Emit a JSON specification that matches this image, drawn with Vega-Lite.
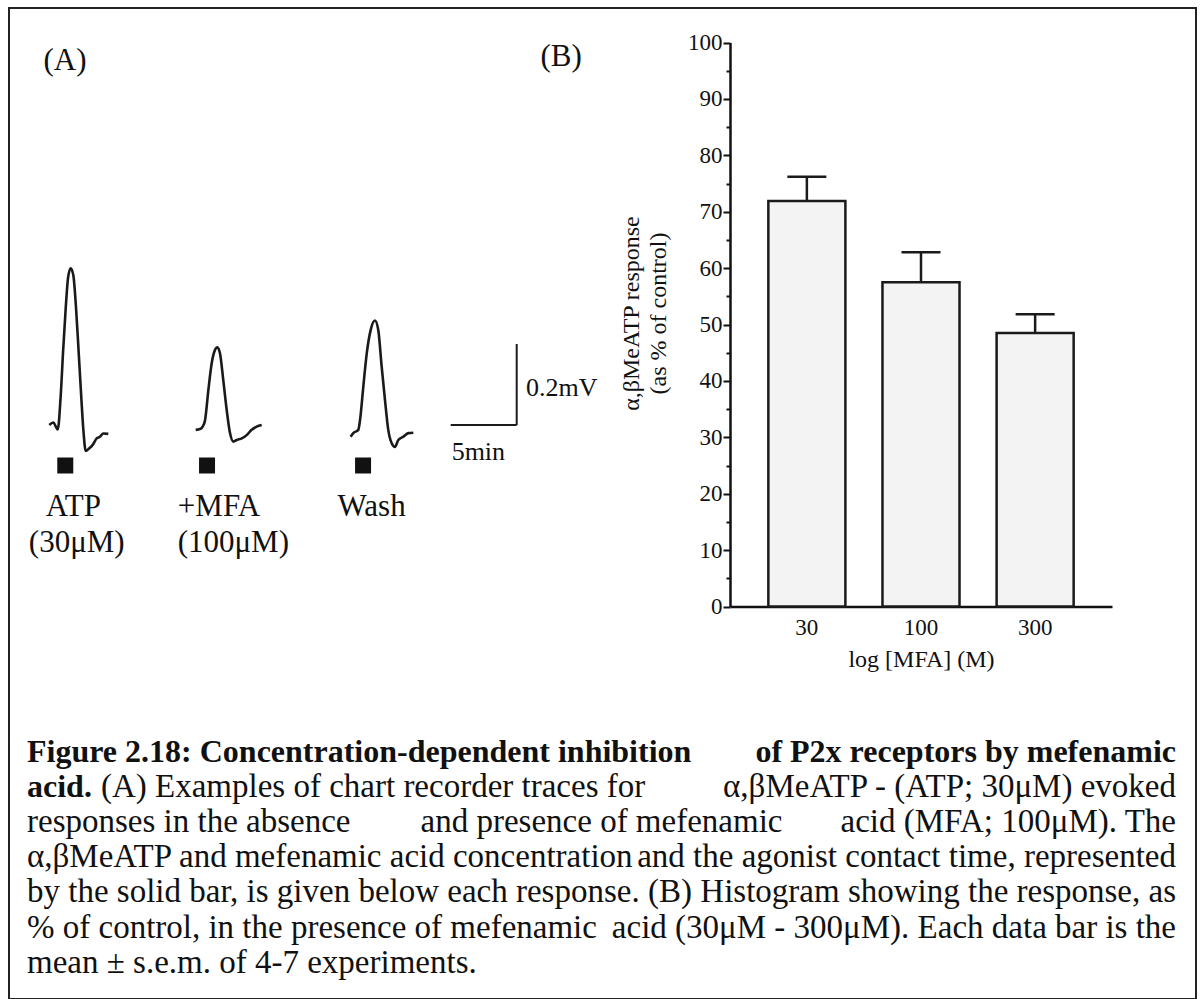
{
  "$schema": "https://vega.github.io/schema/vega-lite/v6.json",
  "width": 1187,
  "height": 991,
  "autosize": {"type": "none"},
  "padding": {"left": 9, "top": 8, "right": 8, "bottom": 0},
  "background": "white",
  "config": {
    "view": {"stroke": "#222", "strokeWidth": 2},
    "font": "Liberation Serif",
    "axis": {
      "labelFont": "Liberation Serif", "titleFont": "Liberation Serif",
      "labelColor": "#111", "titleColor": "#111", "domainColor": "#111", "tickColor": "#111",
      "grid": false, "labelFontSize": 23, "titleFontSize": 24, "titleFontWeight": "normal"
    },
    "text": {"font": "Liberation Serif", "color": "#111"}
  },
  "datasets": {
    "bars": [
      {"conc": "30", "mean": 71.9, "sem_top": 76.2},
      {"conc": "100", "mean": 57.5, "sem_top": 62.8},
      {"conc": "300", "mean": 48.5, "sem_top": 51.8}
    ],
    "traces": [
      {"trace": "ATP", "t": 0, "v": 0}, {"trace": "ATP", "t": 0.30, "v": 0.006}, {"trace": "ATP", "t": 0.64, "v": -0.011},
      {"trace": "ATP", "t": 0.86, "v": 0.070}, {"trace": "ATP", "t": 1.05, "v": 0.185}, {"trace": "ATP", "t": 1.25, "v": 0.292},
      {"trace": "ATP", "t": 1.43, "v": 0.366}, {"trace": "ATP", "t": 1.62, "v": 0.387}, {"trace": "ATP", "t": 1.82, "v": 0.370},
      {"trace": "ATP", "t": 2.02, "v": 0.292}, {"trace": "ATP", "t": 2.23, "v": 0.177}, {"trace": "ATP", "t": 2.42, "v": 0.070},
      {"trace": "ATP", "t": 2.58, "v": -0.012}, {"trace": "ATP", "t": 2.76, "v": -0.064}, {"trace": "ATP", "t": 3.01, "v": -0.058},
      {"trace": "ATP", "t": 3.29, "v": -0.049}, {"trace": "ATP", "t": 3.59, "v": -0.033}, {"trace": "ATP", "t": 3.84, "v": -0.029},
      {"trace": "ATP", "t": 4.09, "v": -0.021}, {"trace": "ATP", "t": 4.47, "v": -0.022},
      {"trace": "MFA", "t": 11.09, "v": -0.012}, {"trace": "MFA", "t": 11.42, "v": -0.010}, {"trace": "MFA", "t": 11.62, "v": -0.004},
      {"trace": "MFA", "t": 11.80, "v": 0.012}, {"trace": "MFA", "t": 12.05, "v": 0.086}, {"trace": "MFA", "t": 12.30, "v": 0.152},
      {"trace": "MFA", "t": 12.55, "v": 0.185}, {"trace": "MFA", "t": 12.73, "v": 0.192}, {"trace": "MFA", "t": 12.93, "v": 0.177},
      {"trace": "MFA", "t": 13.18, "v": 0.111}, {"trace": "MFA", "t": 13.44, "v": 0.037}, {"trace": "MFA", "t": 13.69, "v": -0.020},
      {"trace": "MFA", "t": 13.94, "v": -0.041}, {"trace": "MFA", "t": 14.20, "v": -0.037}, {"trace": "MFA", "t": 14.58, "v": -0.033},
      {"trace": "MFA", "t": 14.95, "v": -0.025}, {"trace": "MFA", "t": 15.33, "v": -0.012}, {"trace": "MFA", "t": 15.71, "v": -0.004},
      {"trace": "MFA", "t": 16.09, "v": 0.000},
      {"trace": "Wash", "t": 22.83, "v": -0.029}, {"trace": "Wash", "t": 23.03, "v": -0.020}, {"trace": "Wash", "t": 23.41, "v": -0.012},
      {"trace": "Wash", "t": 23.54, "v": 0.012}, {"trace": "Wash", "t": 23.79, "v": 0.095}, {"trace": "Wash", "t": 24.05, "v": 0.177},
      {"trace": "Wash", "t": 24.35, "v": 0.235}, {"trace": "Wash", "t": 24.67, "v": 0.258}, {"trace": "Wash", "t": 24.92, "v": 0.235},
      {"trace": "Wash", "t": 25.18, "v": 0.144}, {"trace": "Wash", "t": 25.43, "v": 0.062}, {"trace": "Wash", "t": 25.68, "v": -0.012},
      {"trace": "Wash", "t": 25.94, "v": -0.045}, {"trace": "Wash", "t": 26.19, "v": -0.054}, {"trace": "Wash", "t": 26.44, "v": -0.037},
      {"trace": "Wash", "t": 26.82, "v": -0.029}, {"trace": "Wash", "t": 27.20, "v": -0.020}, {"trace": "Wash", "t": 27.58, "v": -0.019}
    ],
    "scalebar": [
      {"t1": 30.41, "t2": 35.41, "v1": 0, "v2": 0},
      {"t1": 35.41, "t2": 35.41, "v1": 0, "v2": 0.2}
    ],
    "application": [
      {"trace": "ATP", "t": 1.21, "v": -0.1},
      {"trace": "MFA", "t": 11.95, "v": -0.1},
      {"trace": "Wash", "t": 23.77, "v": -0.1}
    ],
    "condition_labels": [
      {"label": "ATP", "t": 1.82, "v": -0.202},
      {"label": "(30μM)", "t": 2.08, "v": -0.292},
      {"label": "+MFA", "t": 12.86, "v": -0.202},
      {"label": "(100μM)", "t": 13.94, "v": -0.292},
      {"label": "Wash", "t": 24.42, "v": -0.202}
    ],
    "panel_labels": [
      {"label": "(A)", "t": 1.19, "v": 0.899},
      {"label": "(B)", "t": 38.77, "v": 0.909}
    ],
    "scale_labels": [
      {"label": "0.2mV", "t": 36.11, "v": 0.091},
      {"label": "5min", "t": 30.48, "v": -0.066}
    ],
    "caption": [
      {"line": 1, "anchor": "L", "part": "heading", "text": "Figure 2.18: Concentration-dependent inhibition"},
      {"line": 1, "anchor": "R", "part": "heading", "text": "of P2x receptors by mefenamic"},
      {"line": 2, "anchor": "L", "part": "heading", "text": "acid."},
      {"line": 2, "anchor": "L", "part": "after", "text": "(A) Examples of chart recorder traces for"},
      {"line": 2, "anchor": "R", "part": "body", "text": "α,βMeATP - (ATP; 30μM) evoked"},
      {"line": 3, "anchor": "L", "part": "body", "text": "responses in the absence"},
      {"line": 3, "anchor": "C", "part": "body", "text": "and presence of mefenamic"},
      {"line": 3, "anchor": "R", "part": "body", "text": "acid (MFA; 100μM). The"},
      {"line": 4, "anchor": "L", "part": "body", "text": "α,βMeATP and mefenamic acid concentration"},
      {"line": 4, "anchor": "R", "part": "body", "text": "and the agonist contact time, represented"},
      {"line": 5, "anchor": "L", "part": "body", "text": "by the solid bar, is given below each response."},
      {"line": 5, "anchor": "R", "part": "body", "text": "(B) Histogram showing the response, as"},
      {"line": 6, "anchor": "L", "part": "body", "text": "% of control, in the presence of mefenamic"},
      {"line": 6, "anchor": "R", "part": "body", "text": "acid (30μM - 300μM). Each data bar is the"},
      {"line": 7, "anchor": "L", "part": "body", "text": "mean ± s.e.m. of 4-7 experiments."}
    ]
  },
  "layer": [
    {
      "data": {"name": "bars"},
      "mark": {"type": "bar", "fill": "#f3f3f3", "stroke": "#1a1a1a", "strokeWidth": 2.5},
      "encoding": {
        "x": {
          "field": "conc", "type": "nominal",
          "scale": {"domain": ["30", "100", "300"], "range": [721, 1103], "paddingInner": 0.325, "paddingOuter": 0.336},
          "axis": {"orient": "bottom", "offset": -392.5, "ticks": false, "labelAngle": 0, "labelPadding": 10, "domainWidth": 2.5, "title": "log [MFA] (M)", "titlePadding": 8}
        },
        "y": {
          "field": "mean", "type": "quantitative",
          "scale": {"domain": [0, 100], "range": [598.5, 34.5], "nice": false, "zero": false},
          "axis": {
            "orient": "left", "offset": -721,
            "values": [0, 5, 10, 15, 20, 25, 30, 35, 40, 45, 50, 55, 60, 65, 70, 75, 80, 85, 90, 95, 100],
            "labelExpr": "datum.value % 10 === 0 ? datum.label : ''",
            "tickSize": {"condition": {"test": "datum.value % 10 === 0", "value": 7}, "value": 4},
            "tickWidth": 2, "domainWidth": 2.5, "labelPadding": 1,
            "title": ["α,βMeATP response", "(as % of control)"],
            "titleLineHeight": 27, "titlePadding": 17, "titleY": 305
          }
        }
      }
    },
    {
      "data": {"name": "bars"},
      "mark": {"type": "rule", "stroke": "#1a1a1a", "strokeWidth": 2.5},
      "encoding": {
        "x": {
          "field": "conc", "type": "nominal",
          "scale": {"domain": ["30", "100", "300"], "range": [721, 1103], "paddingInner": 0.325, "paddingOuter": 0.336},
          "axis": null
        },
        "y": {
          "field": "mean", "type": "quantitative",
          "scale": {"domain": [0, 100], "range": [598.5, 34.5], "nice": false, "zero": false},
          "axis": null
        },
        "y2": {"field": "sem_top"}
      }
    },
    {
      "data": {"name": "bars"},
      "mark": {"type": "tick", "orient": "horizontal", "size": 39, "thickness": 2.5, "color": "#1a1a1a", "opacity": 1},
      "encoding": {
        "x": {
          "field": "conc", "type": "nominal",
          "scale": {"domain": ["30", "100", "300"], "range": [721, 1103], "paddingInner": 0.325, "paddingOuter": 0.336},
          "axis": null
        },
        "y": {
          "field": "sem_top", "type": "quantitative",
          "scale": {"domain": [0, 100], "range": [598.5, 34.5], "nice": false, "zero": false},
          "axis": null
        }
      }
    },
    {
      "layer": [
        {
          "data": {"name": "traces"},
          "mark": {"type": "line", "stroke": "#1a1a1a", "strokeWidth": 2.6, "interpolate": "monotone"},
          "encoding": {
            "x": {"field": "t", "type": "quantitative", "scale": {"domain": [0, 35.41], "range": [40.3, 507.7], "nice": false, "zero": false}, "axis": null},
            "y": {"field": "v", "type": "quantitative", "scale": {"domain": [0, 0.2], "range": [417, 336], "nice": false, "zero": false}, "axis": null},
            "detail": {"field": "trace"}
          }
        },
        {
          "data": {"name": "scalebar"},
          "mark": {"type": "rule", "stroke": "#1a1a1a", "strokeWidth": 2},
          "encoding": {
            "x": {"field": "t1", "type": "quantitative", "axis": null},
            "x2": {"field": "t2"},
            "y": {"field": "v1", "type": "quantitative", "axis": null},
            "y2": {"field": "v2"}
          }
        },
        {
          "data": {"name": "application"},
          "mark": {"type": "point", "shape": "square", "filled": true, "size": 256, "color": "#111", "opacity": 1},
          "encoding": {
            "x": {"field": "t", "type": "quantitative", "axis": null},
            "y": {"field": "v", "type": "quantitative", "axis": null}
          }
        },
        {
          "data": {"name": "condition_labels"},
          "mark": {"type": "text", "align": "center", "baseline": "middle", "fontSize": 31},
          "encoding": {
            "x": {"field": "t", "type": "quantitative", "axis": null},
            "y": {"field": "v", "type": "quantitative", "axis": null},
            "text": {"field": "label"}
          }
        },
        {
          "data": {"name": "panel_labels"},
          "mark": {"type": "text", "align": "center", "baseline": "middle", "fontSize": 31},
          "encoding": {
            "x": {"field": "t", "type": "quantitative", "axis": null},
            "y": {"field": "v", "type": "quantitative", "axis": null},
            "text": {"field": "label"}
          }
        },
        {
          "data": {"name": "scale_labels"},
          "mark": {"type": "text", "align": "left", "baseline": "middle", "fontSize": 26},
          "encoding": {
            "x": {"field": "t", "type": "quantitative", "axis": null},
            "y": {"field": "v", "type": "quantitative", "axis": null},
            "text": {"field": "label"}
          }
        }
      ]
    },
    {
      "data": {"name": "caption"},
      "encoding": {
        "x": {"field": "anchor", "type": "nominal", "scale": {"type": "point", "domain": ["L", "C", "R"], "range": [18, 1167], "padding": 0}, "axis": null},
        "y": {"field": "line", "type": "quantitative", "scale": {"domain": [1, 7], "range": [754, 964.6], "nice": false, "zero": false}, "axis": null},
        "text": {"field": "text"}
      },
      "layer": [
        {"transform": [{"filter": "datum.anchor === 'L' && datum.part === 'heading'"}], "mark": {"type": "text", "align": "left", "baseline": "alphabetic", "fontSize": 32, "fontWeight": "bold"}},
        {"transform": [{"filter": "datum.anchor === 'R' && datum.part === 'heading'"}], "mark": {"type": "text", "align": "right", "baseline": "alphabetic", "fontSize": 32, "fontWeight": "bold"}},
        {"transform": [{"filter": "datum.anchor === 'L' && datum.part === 'body'"}], "mark": {"type": "text", "align": "left", "baseline": "alphabetic", "fontSize": 33}},
        {"transform": [{"filter": "datum.part === 'after'"}], "mark": {"type": "text", "align": "left", "baseline": "alphabetic", "fontSize": 33, "dx": 74}},
        {"transform": [{"filter": "datum.anchor === 'C' && datum.part === 'body'"}], "mark": {"type": "text", "align": "center", "baseline": "alphabetic", "fontSize": 33}},
        {"transform": [{"filter": "datum.anchor === 'R' && datum.part === 'body'"}], "mark": {"type": "text", "align": "right", "baseline": "alphabetic", "fontSize": 33}}
      ]
    }
  ],
  "resolve": {
    "scale": {"x": "independent", "y": "independent"},
    "axis": {"x": "independent", "y": "independent"}
  }
}
